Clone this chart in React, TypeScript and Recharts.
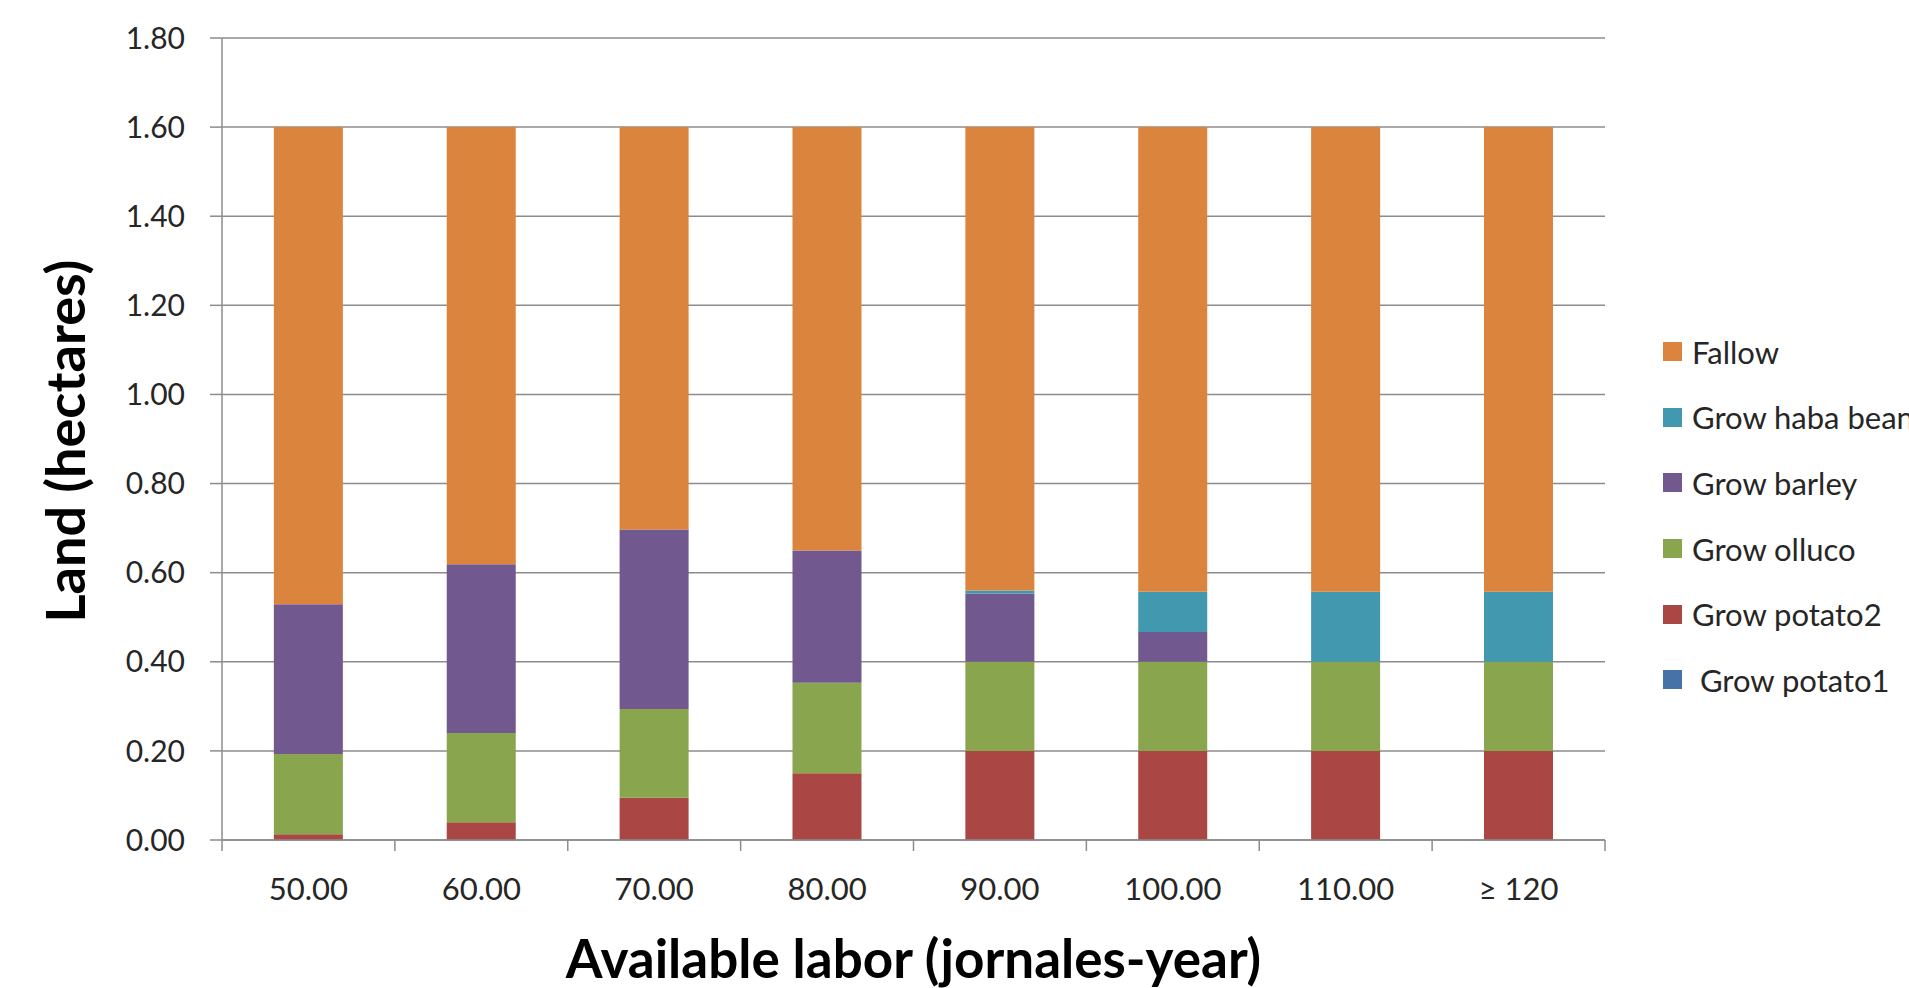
import { Bar, BarChart, CartesianGrid, Label, Legend, XAxis, YAxis } from "recharts";

// labor levels on the x axis
const categories = ["50.00", "60.00", "70.00", "80.00", "90.00", "100.00", "110.00", "≥ 120"];

// land use per labor level (hectares), bottom of the stack first
const potato1 = [0, 0, 0, 0, 0, 0, 0, 0];
const potato2 = [0.013, 0.04, 0.095, 0.15, 0.2, 0.2, 0.2, 0.2];
const olluco = [0.18, 0.2, 0.199, 0.203, 0.2, 0.2, 0.2, 0.2];
const barley = [0.336, 0.379, 0.403, 0.297, 0.153, 0.067, 0, 0];
const haba = [0, 0, 0, 0, 0.007, 0.09, 0.157, 0.157];
const fallow = [1.071, 0.981, 0.903, 0.95, 1.04, 1.043, 1.043, 1.043];

const yTicks = [0, 0.2, 0.4, 0.6, 0.8, 1.0, 1.2, 1.4, 1.6, 1.8];

const series = [
  { key: "potato1", name: " Grow potato1", color: "#4572A7", values: potato1 },
  { key: "potato2", name: "Grow potato2", color: "#AA4643", values: potato2 },
  { key: "olluco", name: "Grow olluco", color: "#89A54E", values: olluco },
  { key: "barley", name: "Grow barley", color: "#71588F", values: barley },
  { key: "haba", name: "Grow haba beans", color: "#4198AF", values: haba },
  { key: "fallow", name: "Fallow", color: "#DB843D", values: fallow },
];

const data = categories.map((label, i) => {
  const row: Record<string, string | number> = { label };
  series.forEach((s) => {
    row[s.key] = s.values[i];
  });
  return row;
});

const FONT = "Lato, 'Open Sans', sans-serif";
const AXIS_GRAY = "#8c8c8c";
const TEXT = "#262626";

// category label plus tick marks on the band edges
function XTick(props: any) {
  const { x, y, payload, index } = props;
  const half = payload.offset ?? 0;
  const last = index === categories.length - 1;

  return (
    <g>
      <line x1={x - half} x2={x - half} y1={y} y2={y + 11} stroke={AXIS_GRAY} strokeWidth={1.5} />
      {last && (
        <line x1={x + half} x2={x + half} y1={y} y2={y + 11} stroke={AXIS_GRAY} strokeWidth={1.5} />
      )}
      <text
        x={x}
        y={y + 48}
        textAnchor="middle"
        dominantBaseline="central"
        fontSize={31}
        fontFamily={FONT}
        fill={TEXT}
      >
        {payload.value}
      </text>
    </g>
  );
}

function LegendBox() {
  return (
    <div style={{ fontFamily: FONT, fontSize: 31, color: TEXT }}>
      {[...series].reverse().map((s) => (
        <div
          key={s.key}
          style={{
            display: "flex",
            alignItems: "center",
            height: 65.6,
            whiteSpace: "pre",
          }}
        >
          <span
            style={{
              display: "inline-block",
              width: 19,
              height: 19,
              background: s.color,
              marginRight: 10,
            }}
          />
          <span>{s.name}</span>
        </div>
      ))}
    </div>
  );
}

export default function App() {
  return (
    <div
      style={{
        position: "absolute",
        left: 0,
        top: 0,
        width: 1909,
        height: 988,
        overflow: "hidden",
        background: "#fff",
      }}
    >
      <BarChart
        width={1909}
        height={988}
        data={data}
        barCategoryGap="30%"
        margin={{ top: 38, right: 304, bottom: 0, left: 0 }}
      >
        <CartesianGrid vertical={false} stroke={AXIS_GRAY} strokeWidth={1.5} />

        <XAxis
          dataKey="label"
          height={148}
          interval={0}
          tickLine={false}
          tickSize={0}
          tickMargin={0}
          axisLine={{ stroke: AXIS_GRAY, strokeWidth: 1.5 }}
          tick={<XTick />}
        >
          <Label
            content={() => (
              <text
                x={913.5}
                y={957}
                textAnchor="middle"
                dominantBaseline="central"
                fontSize={53}
                fontWeight="bold"
                fontFamily={FONT}
                fill="#000"
              >
                Available labor (jornales-year)
              </text>
            )}
          />
        </XAxis>

        <YAxis
          width={222}
          domain={[0, 1.8]}
          ticks={yTicks}
          interval={0}
          tickSize={12}
          tickMargin={25}
          tickFormatter={(v: number) => v.toFixed(2)}
          tickLine={{ stroke: AXIS_GRAY, strokeWidth: 1.5 }}
          axisLine={{ stroke: AXIS_GRAY, strokeWidth: 1.5 }}
          tick={{ fontSize: 30, fontFamily: FONT, fill: TEXT }}
        >
          <Label
            content={() => (
              <text
                x={64}
                y={441}
                transform="rotate(-90 64 441)"
                textAnchor="middle"
                dominantBaseline="central"
                fontSize={54}
                fontWeight="bold"
                fontFamily={FONT}
                fill="#000"
              >
                Land (hectares)
              </text>
            )}
          />
        </YAxis>

        {/* horizontal + middle keeps the legend out of the plot offset */}
        <Legend
          layout="horizontal"
          align="center"
          verticalAlign="middle"
          content={<LegendBox />}
          wrapperStyle={{ position: "absolute", left: 1663, top: 319, width: 300 }}
        />

        {series.map((s) => (
          <Bar
            key={s.key}
            dataKey={s.key}
            name={s.name}
            stackId="land"
            fill={s.color}
            isAnimationActive={false}
          />
        ))}
      </BarChart>
    </div>
  );
}
